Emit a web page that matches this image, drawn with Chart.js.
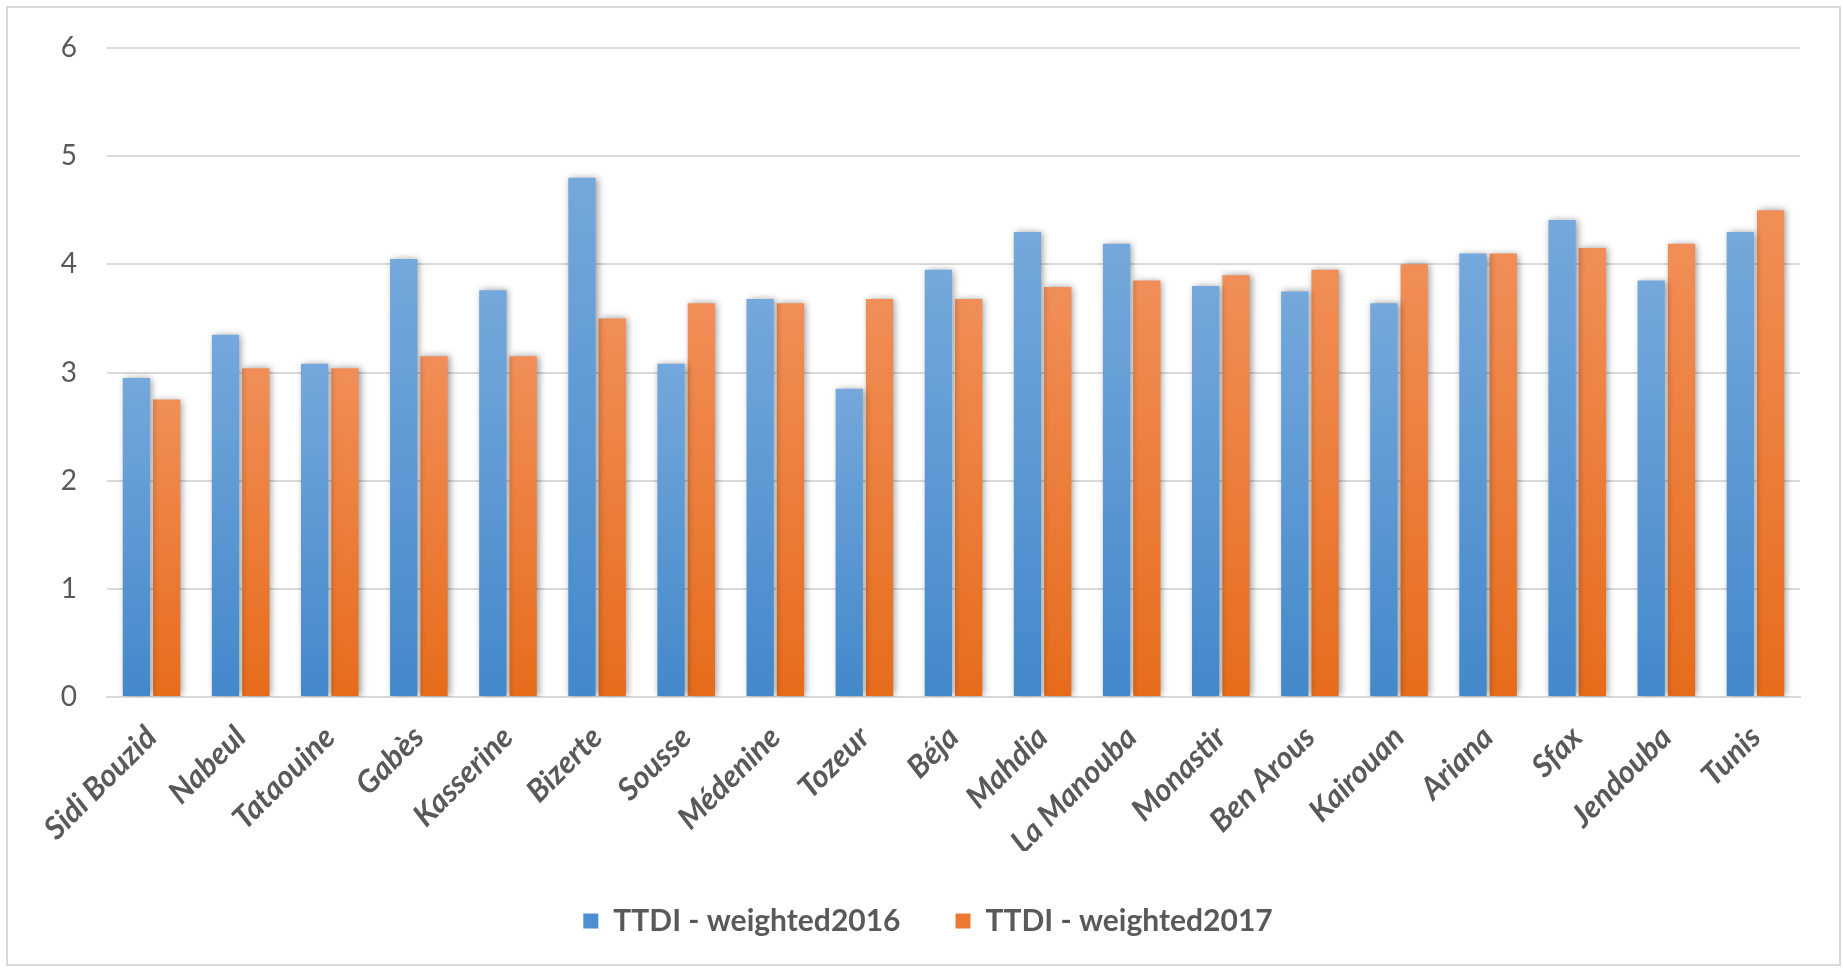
<!DOCTYPE html>
<html>
<head>
<meta charset="utf-8">
<script src="https://cdn.jsdelivr.net/npm/chart.js@4/dist/chart.umd.min.js"></script>
<style>
    body { margin: 0; background: #ffffff; }
    #frame {
        position: absolute; left: 6px; top: 6px;
        width: 1831px; height: 956px;
        border: 2px solid #d9d9d9; box-sizing: content-box;
    }
</style>
</head>
<body>
<div id="frame"><canvas id="myChart" width="1831" height="956"></canvas></div>
<script>
// Regions in the order of the picture
var regions = ["Sidi Bouzid", "Nabeul", "Tataouine", "Gabès", "Kasserine", "Bizerte", "Sousse",
    "Médenine", "Tozeur", "Béja", "Mahdia", "La Manouba", "Monastir", "Ben Arous", "Kairouan",
    "Ariana", "Sfax", "Jendouba", "Tunis"];
var weighted2016 = [2.95, 3.35, 3.08, 4.05, 3.76, 4.80, 3.08, 3.68, 2.85, 3.95, 4.30, 4.19,
    3.80, 3.75, 3.64, 4.10, 4.41, 3.85, 4.30];
var weighted2017 = [2.75, 3.04, 3.04, 3.15, 3.15, 3.50, 3.64, 3.64, 3.68, 3.68, 3.79, 3.85,
    3.90, 3.95, 4.00, 4.10, 4.15, 4.19, 4.50];
var yTicks = [0, 1, 2, 3, 4, 5, 6];

var textColor = '#595959';
var gridColor = '#d9d9d9';

// light at the top of each bar, darker at the base
function barGradient(context, topColor, bottomColor) {
    var chart = context.chart;
    var area = chart.chartArea;
    if (!area || !chart.scales.y) {
        return bottomColor;
    }
    var yTop = chart.scales.y.getPixelForValue(context.raw);
    var g = chart.ctx.createLinearGradient(0, yTop, 0, area.bottom);
    g.addColorStop(0, topColor);
    g.addColorStop(1, bottomColor);
    return g;
}

var shadowPlugin = {
    id: 'barShadow',
    beforeDatasetsDraw: function (chart) {
        var c = chart.ctx;
        c.save();
        c.shadowColor = 'rgba(0, 0, 0, 0.4)';
        c.shadowBlur = 7;
        c.shadowOffsetX = 2;
        c.shadowOffsetY = 0;
    },
    afterDatasetsDraw: function (chart) {
        chart.ctx.restore();
    }
};

function drawChart() {
    const data = {
        labels: regions,
        datasets: [{
            label: 'TTDI - weighted2016',
            data: weighted2016,
            backgroundColor: function (ctx) { return barGradient(ctx, '#75a8dc', '#4388ca'); },
            borderWidth: 0
        }, {
            label: 'TTDI - weighted2017',
            data: weighted2017,
            backgroundColor: function (ctx) { return barGradient(ctx, '#f18e58', '#e66c1b'); },
            borderWidth: 0
        }]
    };

    const config = {
        type: 'bar',
        data: data,
        plugins: [shadowPlugin],
        options: {
            responsive: false,
            animation: false,
            datasets: {
                bar: { categoryPercentage: 0.68, barPercentage: 0.9 }
            },
            layout: {
                padding: { top: 40, right: 39, bottom: 18, left: 48 }
            },
            plugins: {
                tooltip: { enabled: false },
                legend: {
                    position: 'bottom',
                    labels: {
                        color: textColor,
                        boxWidth: 15,
                        boxHeight: 15,
                        padding: 55,
                        font: { family: 'Lato', size: 30, weight: 'bold' },
                        generateLabels: function (chart) {
                            var colors = ['#4f8fd0', '#ec7a35'];
                            return chart.data.datasets.map(function (ds, i) {
                                return {
                                    text: ds.label, fillStyle: colors[i], strokeStyle: colors[i],
                                    lineWidth: 0, datasetIndex: i, fontColor: textColor
                                };
                            });
                        }
                    }
                }
            },
            scales: {
                x: {
                    grid: { display: false },
                    border: { color: gridColor, width: 2 },
                    ticks: {
                        color: textColor,
                        autoSkip: false,
                        minRotation: 45,
                        maxRotation: 45,
                        padding: 14,
                        font: { family: 'Lato', size: 31, weight: 'bold', style: 'italic' }
                    },
                    afterFit: function (scale) { scale.height = 154; }
                },
                y: {
                    min: 0,
                    max: 6,
                    afterBuildTicks: function (scale) {
                        scale.ticks = yTicks.map(function (v) { return { value: v }; });
                    },
                    grid: { color: gridColor, lineWidth: 2, drawTicks: false },
                    border: { display: false },
                    ticks: {
                        color: textColor,
                        padding: 30,
                        font: { family: 'Lato', size: 28 }
                    },
                    afterFit: function (scale) {
                        scale.width = 51;
                        scale.paddingTop = 0;
                        scale.paddingBottom = 0;
                    }
                }
            }
        }
    };

    var myChart = new Chart(document.getElementById('myChart'), config);
}

drawChart();
</script>
</body>
</html>
